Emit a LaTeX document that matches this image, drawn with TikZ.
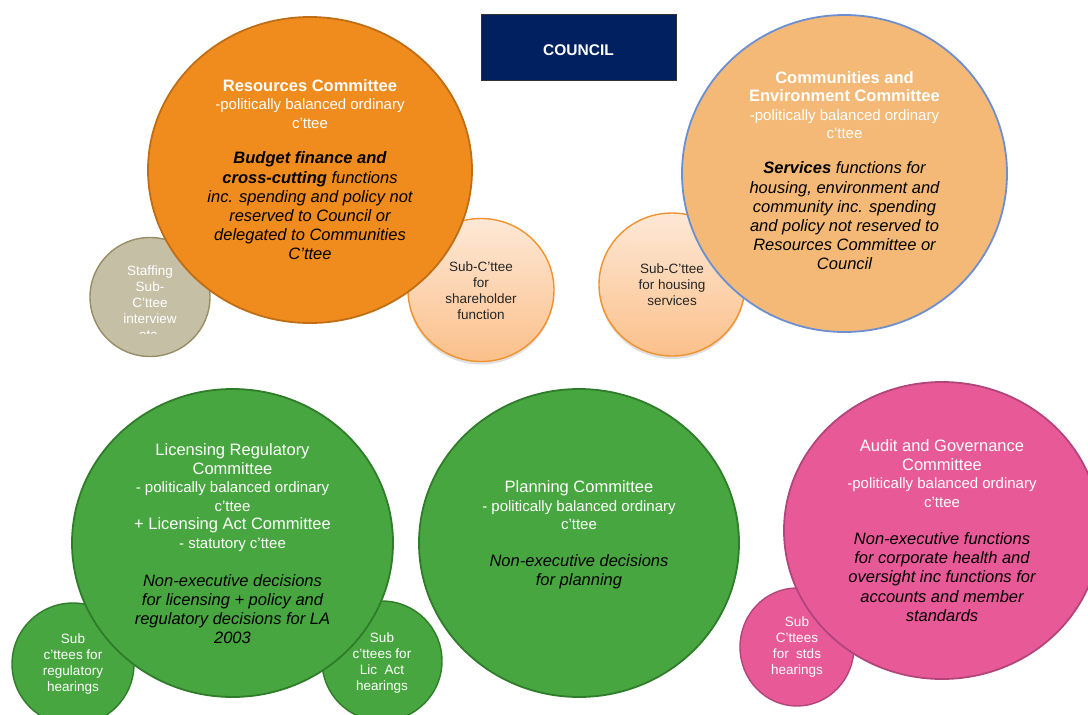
\documentclass[tikz,border=0pt]{standalone}
\usepackage{fontspec}
\setmainfont{Liberation Sans}
\usetikzlibrary{shapes.geometric,shadows}
\definecolor{council}{HTML}{002060}
\definecolor{resfill}{HTML}{F08B1D}
\definecolor{resedge}{HTML}{C06E16}
\definecolor{staff}{HTML}{C4BFA5}
\definecolor{staffedge}{HTML}{958E66}
\definecolor{peachtop}{HTML}{FDE8D6}
\definecolor{peachbot}{HTML}{FBC08A}
\definecolor{subedge}{HTML}{F0922E}
\definecolor{comfill}{HTML}{F4B976}
\definecolor{comedge}{HTML}{6C8FD2}
\definecolor{grn}{HTML}{47A63F}
\definecolor{grnedge}{HTML}{2F7D2A}
\definecolor{pnk}{HTML}{E85A97}
\definecolor{pnkedge}{HTML}{B2457A}
\definecolor{subtext}{HTML}{262626}
\newcommand{\hd}{\fontsize{16.5}{19}\selectfont}

\begin{document}
\begin{tikzpicture}[x=1pt,y=-1pt,
  big/.style={ellipse,draw,line width=1.8pt,inner sep=0pt},
  sub/.style={ellipse,draw,line width=1.4pt,inner sep=0pt},
  peach/.style={sub,draw=subedge,top color=peachtop,bottom color=peachbot,
    drop shadow={opacity=.25,shadow xshift=0pt,shadow yshift=-3pt}},
  head/.style={align=center,text=white,font=\fontsize{15}{18.5}\selectfont},
  body/.style={align=center,text=black,font=\fontsize{16.5}{19.2}\selectfont\itshape},
  note/.style={align=center,font=\fontsize{13.5}{16}\selectfont}]

\useasboundingbox (0,0) rectangle (1088,715);
\clip (0,0) rectangle (1088,715);

% sub-committees (behind)
\node[sub,fill=staff,draw=staffedge,minimum width=120pt,minimum height=119pt] (staff) at (150,297) {};
\node[peach,minimum width=146pt,minimum height=143pt] (share) at (481,290) {};
\node[peach,minimum width=146pt,minimum height=143pt] (hous) at (672,284.5) {};
\node[sub,fill=grn,draw=grnedge,minimum width=122pt,minimum height=122pt] (reg) at (73,664) {};
\node[sub,fill=grn,draw=grnedge,minimum width=120pt,minimum height=120pt] (lic) at (382,661) {};
\node[sub,fill=pnk,draw=pnkedge,minimum width=114pt,minimum height=118pt] (stds) at (797,647) {};

% committees
\node[big,fill=resfill,draw=resedge,minimum width=324pt,minimum height=306pt] (res) at (310,170) {};
\node[big,fill=comfill,draw=comedge,minimum width=325pt,minimum height=317pt] (com) at (844.5,173.5) {};
\node[big,fill=grn,draw=grnedge,minimum width=321pt,minimum height=308pt] (licreg) at (232.5,543) {};
\node[big,fill=grn,draw=grnedge,minimum width=320pt,minimum height=308pt] (plan) at (579,543) {};
\node[big,fill=pnk,draw=pnkedge,minimum width=316pt,minimum height=297pt] (aud) at (942,530.5) {};

% council
\node[draw=black!80,fill=council,minimum width=195pt,minimum height=66pt] (coun) at (578.5,47.5) {};
\node[text=white,font=\fontsize{15.5}{18}\selectfont\bfseries] (coun-t) at (578.5,50) {COUNCIL};

% texts
\node[head] (res-h) at (310,104) {{\hd\bfseries Resources Committee}\\-politically balanced ordinary\\c’ttee};
\node[body] (res-b) at (310,206) {{\bfseries Budget finance and}\\{\bfseries cross-cutting} functions\\inc. spending and policy not\\reserved to Council or\\delegated to Communities\\C’ttee};

\node[head] (com-h) at (844.5,105) {{\hd\bfseries Communities and}\\{\hd\bfseries Environment Committee}\\-politically balanced ordinary\\c’ttee};
\node[body] (com-b) at (844.5,216) {{\bfseries Services} functions for\\housing, environment and\\community inc. spending\\and policy not reserved to\\Resources Committee or\\Council};

\node[head] (licreg-h) at (232.5,497.5) {{\hd Licensing Regulatory}\\{\hd Committee}\\- politically balanced ordinary\\c’ttee\\{\hd + Licensing Act Committee}\\- statutory c’ttee};
\node[body] (licreg-b) at (232.5,609) {Non-executive decisions\\for licensing + policy and\\regulatory decisions for LA\\2003};

\node[head] (plan-h) at (579,505.5) {{\hd Planning Committee}\\- politically balanced ordinary\\c’ttee};
\node[body] (plan-b) at (579,571.5) {Non-executive decisions\\for planning};

\node[head] (aud-h) at (942,473.5) {{\hd Audit and Governance}\\{\hd Committee}\\-politically balanced ordinary\\c’ttee};
\node[body] (aud-b) at (942,577) {Non-executive functions\\for corporate health and\\oversight inc functions for\\accounts and member\\standards};

\begin{scope}
  \clip (90,250) rectangle (210,333);
  \node[note,text=white] (staff-t) at (150,303) {Staffing\\Sub-\\C’ttee\\interview\\etc.};
\end{scope}
\node[note,text=subtext] (share-t) at (481,291) {Sub-C’ttee\\for\\shareholder\\function};
\node[note,text=subtext] (hous-t) at (672,284.5) {Sub-C’ttee\\for housing\\services};
\node[note,text=white] (reg-t) at (73,664) {Sub\\c’ttees for\\regulatory\\hearings};
\node[note,text=white] (lic-t) at (382,663) {Sub\\c’ttees for\\Lic~~Act\\hearings};
\node[note,text=white] (stds-t) at (797,647.5) {Sub\\C’ttees\\for~~stds\\hearings};
\end{tikzpicture}
\end{document}
